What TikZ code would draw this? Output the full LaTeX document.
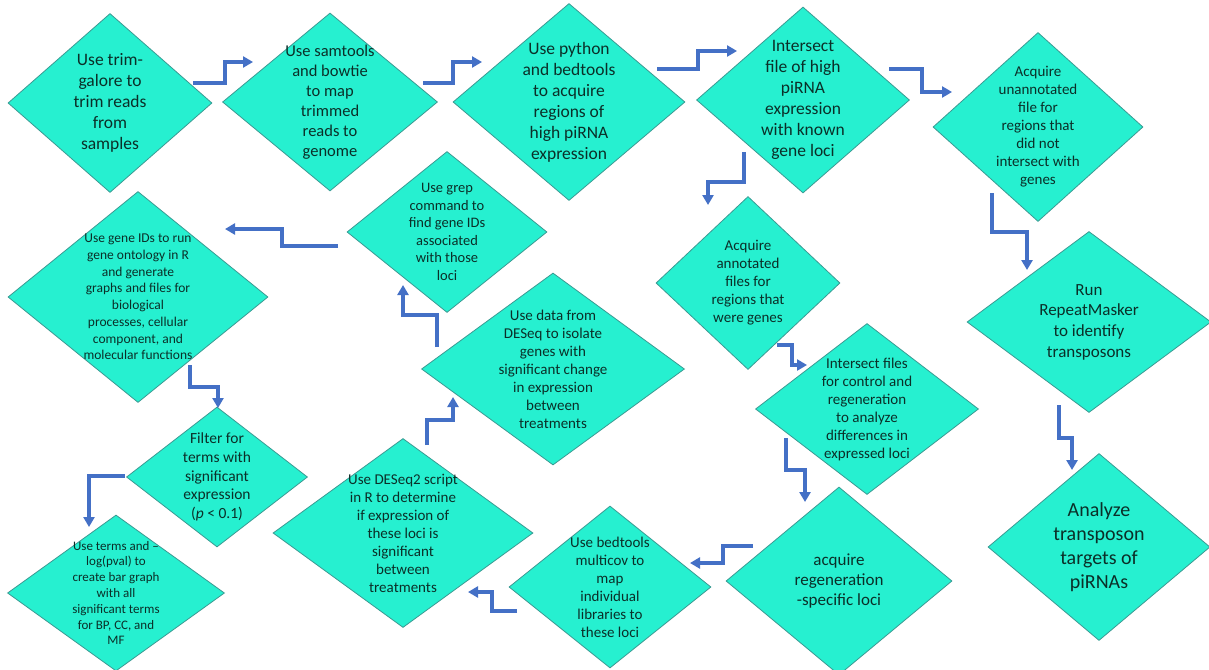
\documentclass[tikz,border=0pt]{standalone}
\usepackage{fontspec}
\setmainfont{Carlito}
\usepackage{xcolor}
\usepackage{tikz}
\usetikzlibrary{arrows.meta, calc, shapes.geometric}
\definecolor{kturq}{HTML}{26F0D0}
\definecolor{kturqedge}{HTML}{3A9A92}
\definecolor{ktext}{HTML}{0B2F28}
\definecolor{karrow}{HTML}{4470C6}
\newcommand{\stepfont}[2]{\fontsize{#1}{#2}\selectfont}

\begin{document}
\begin{tikzpicture}[x=1pt, y=-1pt,
  stepdia/.style={diamond, draw=kturqedge, line width=0.8pt, fill=kturq, inner sep=0pt},
  steptext/.style={align=center, text=ktext, inner sep=0pt},
  flow/.style={draw=karrow, line width=3.2pt, -{Triangle[length=10pt, width=11pt]}}]
\fill[white] (0,0) rectangle (1209,669);
\useasboundingbox (0,0) rectangle (1209,669);
% top row
\node[stepdia, minimum width=204pt, minimum height=179pt] (d1) at (110,103) {};
\node[steptext, font=\stepfont{17.5}{21}] (t1) at (d1) {Use trim-\\galore to\\trim reads\\from\\samples};
\node[stepdia, minimum width=215pt, minimum height=178pt] (d2) at (330,102) {};
\node[steptext, font=\stepfont{16.5}{20}] (t2) at (d2) {Use samtools\\and bowtie\\to map\\trimmed\\reads to\\genome};
\node[stepdia, minimum width=232pt, minimum height=197pt] (d3) at (569,102) {};
\node[steptext, font=\stepfont{17.5}{21}] (t3) at (d3) {Use python\\and bedtools\\to acquire\\regions of\\high piRNA\\expression};
\node[stepdia, minimum width=213pt, minimum height=186pt] (d4) at (803,100) {};
\node[steptext, font=\stepfont{17.5}{21}] (t4) at (d4) {Intersect\\file of high\\piRNA\\expression\\with known\\gene loci};
\node[stepdia, minimum width=210pt, minimum height=189pt] (d5) at (1038,127) {};
\node[steptext, font=\stepfont{15}{18}] (t5) at (d5) {Acquire\\unannotated\\file for\\regions that\\did not\\intersect with\\genes};
% right column
\node[stepdia, minimum width=244pt, minimum height=181pt] (d6) at (1089,322) {};
\node[steptext, font=\stepfont{17}{20.7}] (t6) at (d6) {Run\\RepeatMasker\\to identify\\transposons};
\node[stepdia, minimum width=222pt, minimum height=187pt] (d7) at (1099,547) {};
\node[steptext, font=\stepfont{20}{24}] (t7) at (d7) {Analyze\\transposon\\targets of\\piRNAs};
% middle branch
\node[stepdia, minimum width=184pt, minimum height=173pt] (d16) at (748,283) {};
\node[steptext, font=\stepfont{15}{18}] (t16) at (d16) {Acquire\\annotated\\files for\\regions that\\were genes};
\node[stepdia, minimum width=223pt, minimum height=171pt] (d17) at (867,409) {};
\node[steptext, font=\stepfont{15}{18}] (t17) at (d17) {Intersect files\\for control and\\regeneration\\to analyze\\differences in\\expressed loci};
\node[stepdia, minimum width=226pt, minimum height=188pt] (d8) at (839,581) {};
\node[steptext, font=\stepfont{17}{20.3}] (t8) at (d8) {acquire\\regeneration\\-specific loci};
\node[stepdia, minimum width=202pt, minimum height=162pt] (d9) at (610,587) {};
\node[steptext, font=\stepfont{15}{18}] (t9) at (d9) {Use bedtools\\multicov to\\map\\individual\\libraries to\\these loci};
\node[stepdia, minimum width=260pt, minimum height=189pt] (d10) at (403,533) {};
\node[steptext, font=\stepfont{15}{18}] (t10) at (d10) {Use DESeq2 script\\in R to determine\\if expression of\\these loci is\\significant\\between\\treatments};
\node[stepdia, minimum width=263pt, minimum height=192pt] (d11) at (553,369) {};
\node[steptext, font=\stepfont{15}{18}] (t11) at (d11) {Use data from\\DESeq to isolate\\genes with\\significant change\\in expression\\between\\treatments};
\node[stepdia, minimum width=200pt, minimum height=161pt] (d12) at (447,232) {};
\node[steptext, font=\stepfont{14.5}{17.5}] (t12) at (d12) {Use grep\\command to\\find gene IDs\\associated\\with those\\loci};
% left column
\node[stepdia, minimum width=260pt, minimum height=211pt] (d13) at (138,297) {};
\node[steptext, font=\stepfont{13.5}{16.7}] (t13) at (d13) {Use gene IDs to run\\gene ontology in R\\and generate\\graphs and files for\\biological\\processes, cellular\\component, and\\molecular functions};
\node[stepdia, minimum width=181pt, minimum height=140pt] (d14) at (217,477) {};
\node[steptext, font=\stepfont{15.5}{18.7}] (t14) at (d14) {Filter for\\terms with\\significant\\expression\\(\textit{p} < 0.1)};
\node[stepdia, minimum width=217pt, minimum height=156pt] (d15) at (116,593) {};
\node[steptext, font=\stepfont{13}{15.8}] (t15) at (d15) {Use terms and --\\log(pval) to\\create bar graph\\with all\\significant terms\\for BP, CC, and\\MF};
% connectors
\draw[flow] ([shift={(83,-20)}]d1.center) -- ++(32,0) |- ([shift={(-77,-40)}]d2.center);
\draw[flow] ([shift={(93,-19)}]d2.center) -- ++(30,0) |- ([shift={(-87,-40)}]d3.center);
\draw[flow] ([shift={(88,-33)}]d3.center) -- ++(41,0) |- ([shift={(-66,-49)}]d4.center);
\draw[flow] ([shift={(86,-31)}]d4.center) -- ++(33,0) |- ([shift={(-86,-35)}]d5.center);
\draw[flow] ([shift={(-46,66)}]d5.center) -- ++(0,39) -| ([shift={(-62,-52)}]d6.center);
\draw[flow] ([shift={(-30,83)}]d6.center) -- ++(0,33) -| ([shift={(-27,-77)}]d7.center);
\draw[flow] ([shift={(-59,52)}]d4.center) -- ++(0,30) -| ([shift={(-40,-78)}]d16.center);
\draw[flow] ([shift={(29,62)}]d16.center) -- ++(15,0) |- ([shift={(-60,-44)}]d17.center);
\draw[flow] ([shift={(-81,29)}]d17.center) -- ++(0,32) -| ([shift={(-34,-79)}]d8.center);
\draw[flow] ([shift={(-86,-35)}]d8.center) -- ++(-30,0) |- ([shift={(80,-24)}]d9.center);
\draw[flow] ([shift={(-93,24)}]d9.center) -- ++(-25,0) |- ([shift={(65,59)}]d10.center);
\draw[flow] ([shift={(24,-88)}]d10.center) -- ++(0,-25) -| ([shift={(-100,28)}]d11.center);
\draw[flow] ([shift={(-116,-22)}]d11.center) -- ++(0,-32) -| ([shift={(-44,53)}]d12.center);
\draw[flow] ([shift={(-109,14)}]d12.center) -- ++(-56,0) |- ([shift={(87,-68)}]d13.center);
\draw[flow] ([shift={(52,68)}]d13.center) -- ++(0,22) -| ([shift={(1,-69)}]d14.center);
\draw[flow] ([shift={(-92,-1)}]d14.center) -| ([shift={(-27,-66)}]d15.center);
\end{tikzpicture}
\end{document}
